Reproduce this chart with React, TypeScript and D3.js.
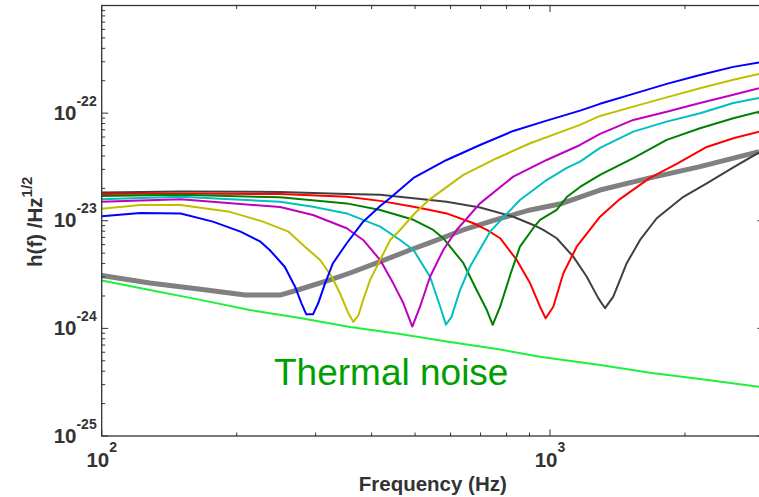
import React from 'react';
import * as d3 from 'd3';

const W = 759;
const H = 497;
const PLOT = { left: 101.7, right: 763.9, top: 5.5, bottom: 436 };

const xDomain: [number, number] = [100, 3000];
const yDomain: [number, number] = [1e-25, 1e-21];
const xMajorTicks = [100, 1000];
const xTickExponents = ['2', '3'];
const xMinorTicks = [200, 300, 400, 500, 600, 700, 800, 900, 2000];
const yMajorTicks = [1e-25, 1e-24, 1e-23, 1e-22];
const yTickExponents = ['-25', '-24', '-23', '-22'];
const yMinorMantissas = [2, 3, 4, 5, 6, 7, 8, 9];
const yMinorDecades = [1e-25, 1e-24, 1e-23, 1e-22];

const xLabel = 'Frequency (Hz)';
const yLabelMain = 'h(f) /Hz';
const yLabelSup = '1/2';
const noteText = 'Thermal noise';

type P = [number, number];

const totalNoise: P[] = [
  [100, 3.10e-24], [128, 2.64e-24], [166, 2.31e-24], [209, 2.04e-24], [250, 2.04e-24],
  [277, 2.31e-24], [323, 2.82e-24], [358, 3.27e-24], [418, 4.17e-24], [487, 5.35e-24],
  [540, 6.26e-24], [640, 8.21e-24], [762, 1.03e-23], [903, 1.26e-23], [1052, 1.43e-23],
  [1293, 1.93e-23], [1671, 2.50e-23], [2161, 3.18e-23], [2926, 4.39e-23],
];

const thermalNoise: P[] = [
  [100, 2.78e-24], [128, 2.27e-24], [166, 1.84e-24], [214, 1.48e-24], [277, 1.25e-24],
  [358, 1.03e-24], [463, 8.87e-25], [598, 7.47e-25], [762, 6.44e-25], [950, 5.46e-25],
  [1293, 4.57e-25], [1671, 3.87e-25], [2161, 3.39e-25], [2926, 2.87e-25],
];

const blueCurve: P[] = [
  [100, 1.10e-23], [122, 1.18e-23], [150, 1.17e-23], [177, 9.81e-24], [204, 7.92e-24],
  [226, 6.39e-24], [237, 5.35e-24], [256, 3.74e-24], [270, 2.44e-24], [279, 1.71e-24],
  [286, 1.35e-24], [296, 1.35e-24], [304, 1.71e-24], [315, 2.62e-24], [328, 4.03e-24],
  [352, 6.18e-24], [383, 9.81e-24], [418, 1.37e-23], [440, 1.63e-23], [496, 2.50e-23],
  [588, 3.67e-23], [698, 5.06e-23], [828, 6.83e-23], [983, 8.52e-23], [1167, 1.055e-22],
  [1293, 1.22e-22], [1534, 1.51e-22], [1821, 1.87e-22], [2161, 2.26e-22], [2564, 2.69e-22],
  [2926, 2.96e-22],
];

const oliveCurve: P[] = [
  [100, 1.29e-23], [122, 1.40e-23], [150, 1.40e-23], [193, 1.21e-23], [229, 9.81e-24],
  [261, 7.92e-24], [284, 5.74e-24], [307, 4.32e-24], [326, 3.02e-24], [340, 2.12e-24],
  [355, 1.38e-24], [364, 1.15e-24], [374, 1.33e-24], [383, 1.84e-24], [397, 2.82e-24],
  [418, 4.32e-24], [440, 6.63e-24], [463, 8.21e-24], [500, 1.18e-23], [540, 1.59e-23],
  [641, 2.67e-23], [761, 3.81e-23], [903, 5.25e-23], [1167, 7.77e-23], [1293, 9.42e-23],
  [1534, 1.15e-22], [1821, 1.40e-22], [2161, 1.70e-22], [2564, 2.04e-22], [2926, 2.31e-22],
];

const magentaCurve: P[] = [
  [100, 1.50e-23], [150, 1.58e-23], [250, 1.34e-23], [296, 1.13e-23], [352, 8.52e-24],
  [383, 6.63e-24], [418, 4.32e-24], [447, 2.62e-24], [471, 1.71e-24], [493, 1.04e-24],
  [513, 1.59e-24], [540, 3.02e-24], [578, 5.35e-24], [619, 8.21e-24], [698, 1.45e-23],
  [828, 2.57e-23], [983, 3.67e-23], [1167, 5.06e-23], [1293, 6.41e-23], [1534, 8.65e-23],
  [1821, 1.03e-22], [2161, 1.24e-22], [2564, 1.48e-22], [2926, 1.70e-22],
];

const cyanCurve: P[] = [
  [100, 1.58e-23], [150, 1.67e-23], [250, 1.50e-23], [296, 1.35e-23], [352, 1.17e-23],
  [418, 8.82e-24], [463, 6.63e-24], [496, 5.35e-24], [540, 3.02e-24], [569, 1.59e-24],
  [586, 1.08e-24], [603, 1.28e-24], [630, 2.27e-24], [663, 3.74e-24], [735, 7.92e-24],
  [857, 1.56e-23], [983, 2.39e-23], [1090, 3.10e-23], [1167, 3.54e-23], [1293, 4.75e-23],
  [1534, 6.73e-23], [1821, 8.34e-23], [2161, 9.98e-23], [2564, 1.24e-22], [2926, 1.38e-22],
];

const greenCurve: P[] = [
  [100, 1.70e-23], [150, 1.74e-23], [250, 1.65e-23], [352, 1.45e-23], [418, 1.26e-23],
  [496, 1.02e-23], [549, 8.21e-24], [578, 6.88e-24], [641, 4.03e-24], [686, 2.27e-24],
  [723, 1.48e-24], [745, 1.08e-24], [774, 1.59e-24], [815, 3.13e-24], [857, 5.74e-24],
  [918, 8.57e-24], [950, 1.02e-23], [1035, 1.26e-23], [1090, 1.66e-23], [1167, 2.06e-23],
  [1293, 2.67e-23], [1534, 3.81e-23], [1821, 5.64e-23], [2161, 7.24e-23], [2564, 8.97e-23],
  [2926, 1.03e-22],
];

const redCurve: P[] = [
  [100, 1.77e-23], [150, 1.79e-23], [250, 1.77e-23], [352, 1.67e-23], [418, 1.53e-23],
  [496, 1.35e-23], [540, 1.26e-23], [588, 1.17e-23], [675, 9.48e-24], [723, 8.21e-24],
  [774, 6.88e-24], [843, 4.32e-24], [903, 2.62e-24], [950, 1.59e-24], [978, 1.24e-24],
  [1017, 1.59e-24], [1071, 3.25e-24], [1147, 5.74e-24], [1293, 1.09e-23], [1432, 1.59e-23],
  [1671, 2.50e-23], [1917, 3.37e-23], [2237, 4.85e-23], [2564, 5.84e-23], [2926, 6.73e-23],
];

const darkCurve: P[] = [
  [100, 1.83e-23], [150, 1.87e-23], [250, 1.85e-23], [352, 1.77e-23], [418, 1.74e-23],
  [496, 1.62e-23], [588, 1.50e-23], [698, 1.33e-23], [828, 1.09e-23], [918, 9.14e-24],
  [966, 8.21e-24], [1035, 6.88e-24], [1127, 4.64e-24], [1208, 3.02e-24], [1282, 1.90e-24],
  [1327, 1.54e-24], [1384, 1.97e-24], [1483, 4.03e-24], [1588, 6.63e-24], [1730, 1.055e-23],
  [1984, 1.67e-23], [2237, 2.23e-23], [2564, 3.13e-23], [2926, 4.31e-23],
];

const FONT = '"Liberation Sans", Arial, Helvetica, sans-serif';
const AXIS_COLOR = '#333333';

export default function App() {
  const x = d3.scaleLog().domain(xDomain).range([PLOT.left, PLOT.right]);
  const y = d3.scaleLog().domain(yDomain).range([PLOT.bottom, PLOT.top]);
  const line = d3
    .line<P>()
    .x((d) => x(d[0]))
    .y((d) => y(d[1]));

  const series = [
    { data: totalNoise, color: '#808080', width: 5 },
    { data: darkCurve, color: '#404040', width: 2 },
    { data: redCurve, color: '#ff0000', width: 2 },
    { data: greenCurve, color: '#008000', width: 2 },
    { data: cyanCurve, color: '#00bfbf', width: 2 },
    { data: magentaCurve, color: '#bf00bf', width: 2 },
    { data: oliveCurve, color: '#bfbf00', width: 2 },
    { data: blueCurve, color: '#0000ff', width: 2 },
    { data: thermalNoise, color: '#1ef03c', width: 2 },
  ];

  const yMinor: number[] = [];
  yMinorDecades.forEach((d) => yMinorMantissas.forEach((m) => yMinor.push(d * m)));

  const majorLen = 6.5;
  const minorLen = 3.5;

  return (
    <svg
      width={W}
      height={H}
      style={{ position: 'absolute', left: 0, top: 0, background: '#ffffff' }}
      fontFamily={FONT}
    >
      <defs>
        <clipPath id="plotClip">
          <rect x={PLOT.left} y={PLOT.top} width={PLOT.right - PLOT.left} height={PLOT.bottom - PLOT.top} />
        </clipPath>
      </defs>
      <rect x={0} y={0} width={W} height={H} fill="#ffffff" />

      <g clipPath="url(#plotClip)">
        {series.map((s, i) => (
          <path
            key={i}
            d={line(s.data) || ''}
            fill="none"
            stroke={s.color}
            strokeWidth={s.width}
            strokeLinejoin="round"
          />
        ))}
      </g>

      {/* axes box */}
      <rect
        x={PLOT.left}
        y={PLOT.top}
        width={PLOT.right - PLOT.left}
        height={PLOT.bottom - PLOT.top}
        fill="none"
        stroke={AXIS_COLOR}
        strokeWidth={1.3}
      />

      {/* x ticks */}
      {xMajorTicks.map((t, i) => (
        <g key={'xm' + i}>
          <line x1={x(t)} x2={x(t)} y1={PLOT.bottom} y2={PLOT.bottom - majorLen} stroke={AXIS_COLOR} />
          <line x1={x(t)} x2={x(t)} y1={PLOT.top} y2={PLOT.top + majorLen} stroke={AXIS_COLOR} />
        </g>
      ))}
      {xMinorTicks.map((t, i) => (
        <g key={'xn' + i}>
          <line x1={x(t)} x2={x(t)} y1={PLOT.bottom} y2={PLOT.bottom - minorLen} stroke={AXIS_COLOR} />
          <line x1={x(t)} x2={x(t)} y1={PLOT.top} y2={PLOT.top + minorLen} stroke={AXIS_COLOR} />
        </g>
      ))}
      {/* y ticks */}
      {yMajorTicks.map((t, i) => (
        <g key={'ym' + i}>
          <line x1={PLOT.left} x2={PLOT.left + majorLen} y1={y(t)} y2={y(t)} stroke={AXIS_COLOR} />
          <line x1={PLOT.right} x2={PLOT.right - majorLen} y1={y(t)} y2={y(t)} stroke={AXIS_COLOR} />
        </g>
      ))}
      {yMinor.map((t, i) => (
        <g key={'yn' + i}>
          <line x1={PLOT.left} x2={PLOT.left + minorLen} y1={y(t)} y2={y(t)} stroke={AXIS_COLOR} />
          <line x1={PLOT.right} x2={PLOT.right - minorLen} y1={y(t)} y2={y(t)} stroke={AXIS_COLOR} />
        </g>
      ))}

      {/* x tick labels */}
      {xMajorTicks.map((t, i) => (
        <text
          key={'xl' + i}
          x={x(t)}
          y={PLOT.bottom + 30.7}
          textAnchor="middle"
          fontWeight="bold"
          fontSize={20.5}
          fill={AXIS_COLOR}
        >
          10
          <tspan fontSize={14} dy={-15}>
            {xTickExponents[i]}
          </tspan>
        </text>
      ))}

      {/* y tick labels */}
      {yMajorTicks.map((t, i) => (
        <text
          key={'yl' + i}
          x={PLOT.left - 5}
          y={y(t) + 6.5}
          textAnchor="end"
          fontWeight="bold"
          fontSize={20.5}
          fill={AXIS_COLOR}
        >
          10
          <tspan fontSize={14} dy={-14}>
            {yTickExponents[i]}
          </tspan>
        </text>
      ))}

      {/* axis labels */}
      <text
        x={(PLOT.left + PLOT.right) / 2}
        y={490.5}
        textAnchor="middle"
        fontWeight="bold"
        fontSize={20.5}
        fill={AXIS_COLOR}
      >
        {xLabel}
      </text>
      <text
        transform={`translate(41.7, ${(PLOT.top + PLOT.bottom) / 2 + 1}) rotate(-90)`}
        textAnchor="middle"
        fontWeight="bold"
        fontSize={20.5}
        fill={AXIS_COLOR}
      >
        {yLabelMain}
        <tspan fontSize={15} dy={-10}>
          {yLabelSup}
        </tspan>
      </text>

      {/* annotation */}
      <text x={274} y={385} fontSize={37} fill="#00a000">
        {noteText}
      </text>
    </svg>
  );
}
